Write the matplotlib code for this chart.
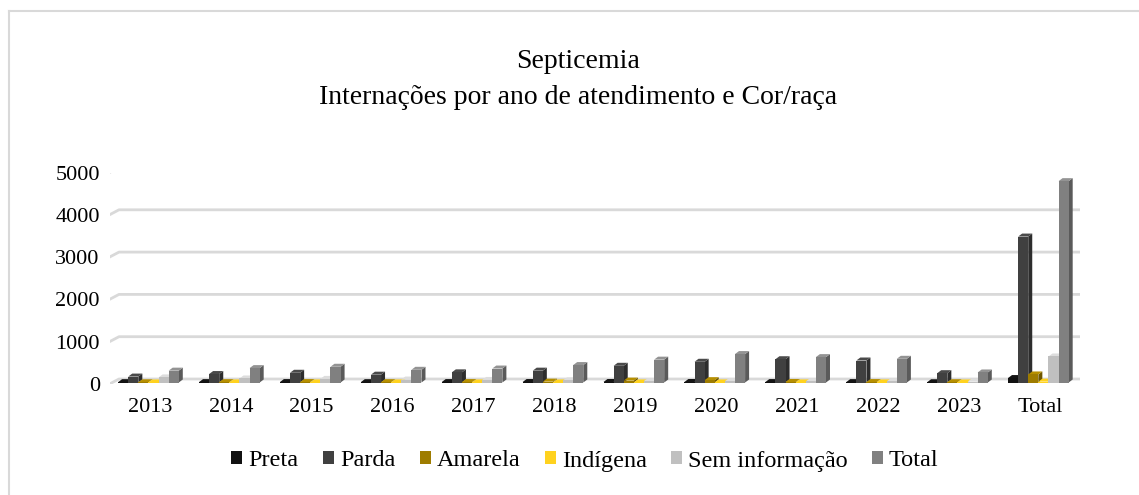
import matplotlib
matplotlib.use("Agg")
import matplotlib.pyplot as plt
import matplotlib.transforms as mtransforms
from matplotlib.patches import Polygon, Patch
from matplotlib.lines import Line2D
import numpy as np

# data
categories = ["2013", "2014", "2015", "2016", "2017", "2018", "2019", "2020",
              "2021", "2022", "2023", "Total"]
preta = [8, 9, 10, 8, 10, 11, 12, 12, 10, 9, 6, 105]
parda = [140, 200, 230, 185, 240, 280, 395, 490, 550, 520, 220, 3450]
amarela = [5, 8, 10, 8, 10, 20, 45, 55, 12, 10, 7, 190]
indigena = [1, 2, 2, 2, 2, 2, 2, 2, 2, 2, 1, 20]
sem_info = [120, 95, 85, 70, 60, 50, 35, 30, 25, 25, 20, 615]
total = [280, 340, 372, 300, 330, 412, 540, 672, 600, 560, 237, 4760]

series = ["Preta", "Parda", "Amarela", "Indígena", "Sem informação", "Total"]
values = [preta, parda, amarela, indigena, sem_info, total]
colors = ["#111111", "#404040", "#9e7c00", "#ffd21f", "#c0c0c0", "#808080"]
yticks = [0, 1000, 2000, 3000, 4000, 5000]

serif = ["Liberation Serif", "DejaVu Serif"]
plt.rcParams["font.family"] = serif

W, H = 1139, 495
fig = plt.figure(figsize=(W / 100, H / 100), dpi=100)
ax = fig.add_axes([109.5 / W, (H - 384) / H, 970.8 / W, 211.5 / H])
ax.set_xlim(-0.5, len(categories) - 0.5)
ax.set_ylim(0, 5000)
for s in ax.spines.values():
    s.set_visible(False)
ax.patch.set_visible(False)

ax.set_xticks(range(len(categories)))
ax.set_xticklabels(categories, fontsize=16)
ax.set_yticks(yticks)
ax.set_yticklabels([str(t) for t in yticks], fontsize=16)
ax.tick_params(axis="both", length=0)
ax.tick_params(axis="y", pad=7)
ax.tick_params(axis="x", pad=10)

ident = mtransforms.IdentityTransform()


def px(x, y):
    return ax.transData.transform((x, y))


def shade(c, f):
    rgb = np.array(matplotlib.colors.to_rgb(c))
    return tuple(np.clip(rgb * f, 0, 1))


# back wall gridlines with slanted floor edge
floor_dx, floor_dy = 9.5, 5
x0, x1 = -0.5, len(categories) - 0.5
for t in yticks:
    a = px(x0, t)
    b = px(x1, t)
    line = Line2D([a[0], a[0] + floor_dx, b[0] + floor_dx],
                  [a[1], a[1] + floor_dy, b[1] + floor_dy],
                  transform=ident, color="#d9d9d9", lw=2, zorder=1)
    ax.add_artist(line)

# 3d-looking bars
n = len(series)
bw = 0.125
bar_dx, bar_dy = 4, 3
off_x, off_y = -1.5, 1.5
for i in range(len(categories)):
    for j in range(n):
        v = values[j][i]
        xl = i - n * bw / 2 + j * bw
        xr = xl + bw
        p0 = px(xl, 0) + [off_x, off_y]
        p1 = px(xr, 0) + [off_x, off_y]
        p2 = px(xr, v) + [off_x, off_y]
        p3 = px(xl, v) + [off_x, off_y]
        d = np.array([bar_dx, bar_dy])
        z = 2 + i * 0.01 + j * 0.001
        side = Polygon([p1, p2, p2 + d, p1 + d], closed=True, transform=ident,
                       facecolor=shade(colors[j], 0.7), edgecolor="none", zorder=z)
        top = Polygon([p3, p2, p2 + d, p3 + d], closed=True, transform=ident,
                      facecolor=shade(colors[j], 1.15) if j != 3 else colors[j],
                      edgecolor="none", zorder=z)
        front = Polygon([p0, p1, p2, p3], closed=True, transform=ident,
                        facecolor=colors[j], edgecolor="none", zorder=z)
        ax.add_patch(side)
        ax.add_patch(top)
        ax.add_patch(front)

# titles
fig.text(578 / W, 1 - 62 / H, "Septicemia", ha="center", va="center", fontsize=20)
fig.text(578 / W, 1 - 97 / H, "Internações por ano de atendimento e Cor/raça",
         ha="center", va="center", fontsize=20)

# legend
handles = [Patch(facecolor=c, edgecolor="none", label=s) for s, c in zip(series, colors)]
fig.legend(handles=handles, loc="center", bbox_to_anchor=(585 / W, 1 - 461 / H),
           ncol=6, frameon=False, fontsize=17.5, handlelength=0.45, handleheight=0.45,
           handletextpad=0.25, columnspacing=1.0)

# chart frame (only top and left edges visible)
fig.add_artist(Line2D([8.5, W], [H - 10.5, H - 10.5], transform=ident,
                      color="#d9d9d9", lw=1.5))
fig.add_artist(Line2D([8.5, 8.5], [0, H - 10.5], transform=ident,
                      color="#d9d9d9", lw=1.5))

fig.savefig("out.png", dpi=100)
